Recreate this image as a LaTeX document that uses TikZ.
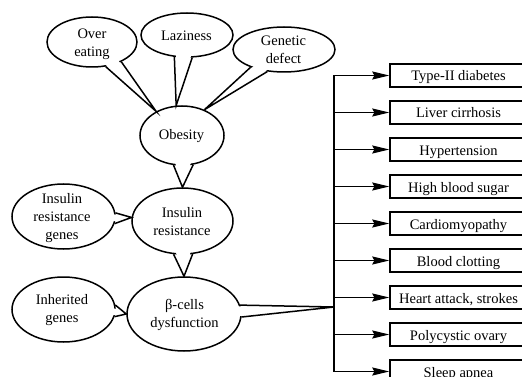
\documentclass[tikz,border=0pt]{standalone}
\usepackage{fontspec}
\setmainfont{Liberation Serif}
\usetikzlibrary{calc,arrows.meta,shapes.geometric}
\newcommand\mytail[4]{%
  \fill[white] (#4) -- ($(#1.center)!0.86!(#1.#2)$) -- ($(#1.center)!0.86!(#1.#3)$) -- cycle;
  \draw[line join=miter] (#1.#2) -- (#4) -- (#1.#3);}
\begin{document}
\begin{tikzpicture}[x=1pt,y=-1pt,line width=1.5pt,
  bub/.style={ellipse,draw,fill=white,inner sep=0pt},
  lbl/.style={font=\fontsize{14.5}{18.2}\selectfont,align=center,inner sep=0pt},
  box/.style={draw,fill=white,minimum width=137pt,minimum height=23pt,inner sep=0pt,
    font=\fontsize{14.5}{18}\selectfont,text height=12.5pt,text depth=1.5pt,line width=1.4pt},
  arr/.style={-{Stealth[length=17pt,width=8pt,inset=2pt]},line width=1.4pt}]
\useasboundingbox (0,0) rectangle (522,377);
\clip (0,0) rectangle (522,377);
% ellipses
\node[bub,minimum width=90pt,minimum height=50pt] (oe) at (92,42) {};
\node[bub,minimum width=92pt,minimum height=44pt] (lz) at (187,35) {};
\node[bub,minimum width=102pt,minimum height=45pt] (gd) at (284,49.5) {};
\node[bub,minimum width=84pt,minimum height=59pt] (ob) at (182,135.5) {};
\node[bub,minimum width=103pt,minimum height=65pt] (irg) at (63.5,216.5) {};
\node[bub,minimum width=101pt,minimum height=66pt] (ir) at (182.5,221) {};
\node[bub,minimum width=103pt,minimum height=65pt] (ig) at (63.5,309.5) {};
\node[bub,minimum width=114pt,minimum height=74pt] (bc) at (184,314) {};
% bus
\coordinate (bt) at (334,75.5);
\coordinate (bb) at (334,371.5);
\coordinate (btip) at (334,307);
% tails
\mytail{oe}{-61.6}{-34.6}{ob.137}
\mytail{lz}{-120.6}{-77.2}{ob.101}
\mytail{gd}{-152.7}{-127.3}{ob.49.6}
\mytail{ob}{-106.5}{-69.7}{ir.90}
\mytail{irg}{4.6}{-8.1}{ir.176}
\mytail{ir}{-105.3}{-73.1}{bc.90}
\mytail{ig}{5.2}{-8.5}{bc.180}
\mytail{bc}{9}{-3}{btip}
% texts
\node[lbl] at (92,43.8) {\strut Over\\\strut eating};
\node[lbl] at (186.5,37.3) {\strut Laziness};
\node[lbl] at (283.5,50.8) {\strut Genetic\\\strut defect};
\node[lbl] at (181.5,136.3) {\strut Obesity};
\node[lbl] at (62,217.8) {\strut Insulin\\\strut resistance\\\strut genes};
\node[lbl] at (182,222.5) {\strut Insulin\\\strut resistance};
\node[lbl] at (62,310.1) {\strut Inherited\\\strut genes};
\node[lbl] at (184.5,315.1) {\strut β-cells\\\strut dysfunction};
% boxes
\node[box] (b1) at (458.5,75.5) {Type-II diabetes};
\node[box] (b2) at (458.5,112.5) {Liver cirrhosis};
\node[box] (b3) at (458.5,149.5) {Hypertension};
\node[box] (b4) at (458.5,186.5) {High blood sugar};
\node[box] (b5) at (458.5,223.5) {Cardiomyopathy};
\node[box] (b6) at (458.5,260.5) {Blood clotting};
\node[box] (b7) at (458.5,297.5) {Heart attack, strokes};
\node[box] (b8) at (458.5,334.5) {Polycystic ovary};
\node[box] (b9) at (458.5,371.5) {Sleep apnea};
\draw (bt) -- (bb);
\foreach \b in {b1,b2,b3,b4,b5,b6,b7,b8,b9}
  \draw[arr] (\b.west -| bt) -- (\b.west);
\end{tikzpicture}
\end{document}
